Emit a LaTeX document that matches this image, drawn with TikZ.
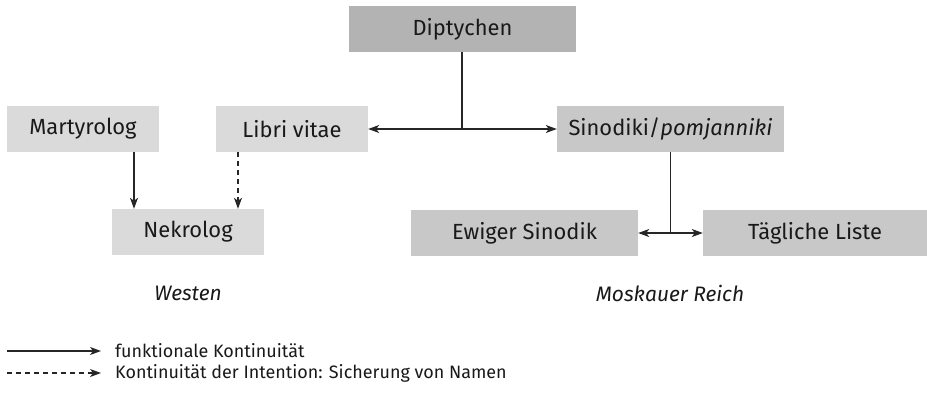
\documentclass[tikz,border=0pt]{standalone}
\usepackage{fontspec}
\setmainfont{Fira Sans}
\usetikzlibrary{arrows.meta}
\definecolor{gdark}{HTML}{B3B3B3}
\definecolor{gmid}{HTML}{C8C8C8}
\definecolor{glight}{HTML}{DADADA}
\begin{document}
\begin{tikzpicture}[x=1bp,y=-1bp,
  box/.style={inner sep=0pt, minimum height=46bp, font=\fontsize{22}{24}\selectfont, text=black!90},
  lbl/.style={inner sep=0pt, font=\fontsize{21}{24}\selectfont\itshape, text=black!90},
  leg/.style={inner sep=0pt, anchor=west, font=\fontsize{18}{20}\selectfont, text=black!90},
  conn/.style={line width=1.2bp, draw=black!85},
  arr/.style={conn, -{Stealth[length=11bp,width=8bp,inset=3bp]}}]
\useasboundingbox (0,0) rectangle (927,393);
\node[box, fill=gdark, minimum width=227bp] (dip) at (462.5,29) {Diptychen};
\node[box, fill=glight, minimum width=152bp] (mart) at (83,129) {Martyrolog};
\node[box, fill=glight, minimum width=152bp] (libri) at (292,129) {Libri vitae};
\node[box, fill=glight, minimum width=152bp] (nekro) at (188,232) {Nekrolog};
\node[box, fill=gmid, minimum width=227bp] (sino) at (670.5,129) {Sinodiki/\textit{pomjanniki}};
\node[box, fill=gmid, minimum width=227bp] (ewig) at (524.5,233) {Ewiger Sinodik};
\node[box, fill=gmid, minimum width=224bp] (taeg) at (815,233) {Tägliche Liste};
\node[lbl] (west) at (188,293) {Westen};
\node[lbl] (mosk) at (670,293) {Moskauer Reich};
% connectors
\coordinate (j1) at (462,129);
\coordinate (j2) at (670.5,233);
\coordinate (a1) at (134,0);
\coordinate (a2) at (238,0);
\draw[conn] (dip.south -| j1) -- (j1);
\draw[arr] (j1) -- (libri.east);
\draw[arr] (j1) -- (sino.west);
\draw[conn] (sino.south -| j2) -- (j2);
\draw[arr] (j2) -- (ewig.east);
\draw[arr] (j2) -- (taeg.west);
\draw[arr] (mart.south -| a1) -- (nekro.north -| a1);
\draw[arr, dash pattern=on 5bp off 4bp] (libri.south -| a2) -- (nekro.north -| a2);
% legend
\coordinate (l1s) at (7,351);
\coordinate (l2s) at (7,373);
\node[leg] (leg1) at (115,351) {funktionale Kontinuität};
\node[leg] (leg2) at (115,373) {Kontinuität der Intention: Sicherung von Namen};
\draw[arr] (l1s) -- ([xshift=-14bp]leg1.west);
\draw[arr, dash pattern=on 5bp off 4bp] (l2s) -- ([xshift=-14bp]leg2.west);
\end{tikzpicture}
\end{document}
